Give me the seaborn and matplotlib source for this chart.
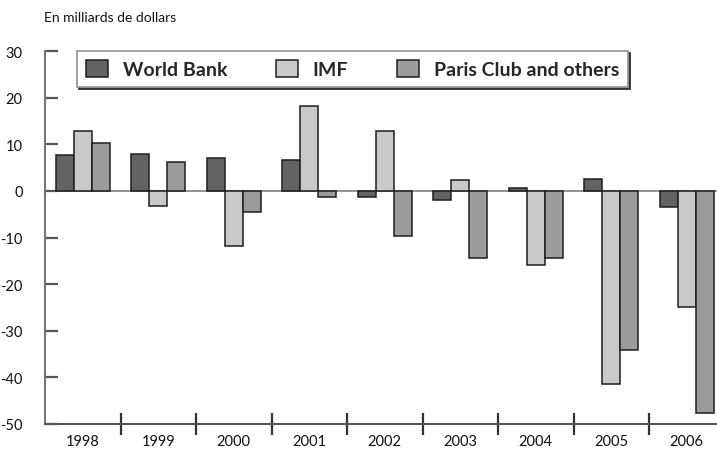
import pandas as pd
import seaborn as sns
import matplotlib.pyplot as plt

years = ['1998', '1999', '2000', '2001', '2002', '2003', '2004', '2005', '2006']
world_bank = [7.7, 8.0, 7.0, 6.6, -1.4, -2.0, 0.6, 2.5, -3.4]
imf = [12.8, -3.3, -11.8, 18.2, 12.8, 2.3, -15.9, -41.4, -25.0]
paris_club = [10.3, 6.3, -4.5, -1.4, -9.7, -14.5, -14.5, -34.1, -47.7]
series = ['World Bank', 'IMF', 'Paris Club and others']
colors = ['#636363', '#c9c9c9', '#9b9b9b']

df = pd.DataFrame({'Year': years, 'World Bank': world_bank, 'IMF': imf,
                   'Paris Club and others': paris_club})
df = df.melt(id_vars='Year', var_name='Source', value_name='Value')

sns.set_style('white')
plt.rcParams['font.family'] = ['Lato', 'DejaVu Sans']
plt.rcParams['axes.unicode_minus'] = False

fig = plt.figure(figsize=(7.17, 4.52), dpi=100)
ax = fig.add_axes([45 / 717, 27 / 452, 672 / 717, 373 / 452])

ax.axhline(0, color='#8a8a8a', linewidth=1.3, zorder=0.5)
sns.barplot(data=df, x='Year', y='Value', hue='Source', hue_order=series,
            palette=colors, width=0.72, edgecolor='#1e1e1e', linewidth=1.1,
            saturation=1, ax=ax, zorder=2)

ax.set_xlim(-0.5, 8.4)
ax.set_ylim(-50, 30)
ax.set_yticks([30, 20, 10, 0, -10, -20, -30, -40, -50])
ax.set_xlabel('')
ax.set_ylabel('')

for s in ['top', 'right']:
    ax.spines[s].set_visible(False)
ax.spines['left'].set_color('#777777')
ax.spines['left'].set_linewidth(1.5)
ax.spines['bottom'].set_color('#555555')
ax.spines['bottom'].set_linewidth(1.5)

ax.tick_params(axis='y', direction='in', length=9, width=1.6, color='#555555',
               pad=16, labelsize=10.5, labelcolor='#111111', left=True)
ax.tick_params(axis='x', which='major', length=0, pad=7, labelsize=10.5,
               labelcolor='#111111')
ax.set_xticks([i + 0.5 for i in range(8)], minor=True)
ax.tick_params(axis='x', which='minor', direction='inout', length=16,
               width=1.6, color='#333333', bottom=True)

handles, labels = ax.get_legend_handles_labels()
leg = ax.legend(handles, labels, ncol=3, loc='upper left',
                bbox_to_anchor=(32 / 672, 1.0), borderaxespad=0,
                frameon=True, fancybox=False,
                framealpha=1, edgecolor='#9a9a9a', borderpad=0.45,
                columnspacing=2.5, handlelength=1.15, handleheight=1.0,
                handletextpad=0.75, prop={'weight': 'bold', 'size': 14},
                shadow={'color': '#333333', 'alpha': 1, 'ox': 1.5, 'oy': -1.5})
leg.get_frame().set_linewidth(1.3)

fig.text(44 / 717, 1 - 18 / 452, 'En milliards de dollars', fontsize=10,
         va='center', ha='left', color='#111111')

fig.savefig('out.png', dpi=100)
